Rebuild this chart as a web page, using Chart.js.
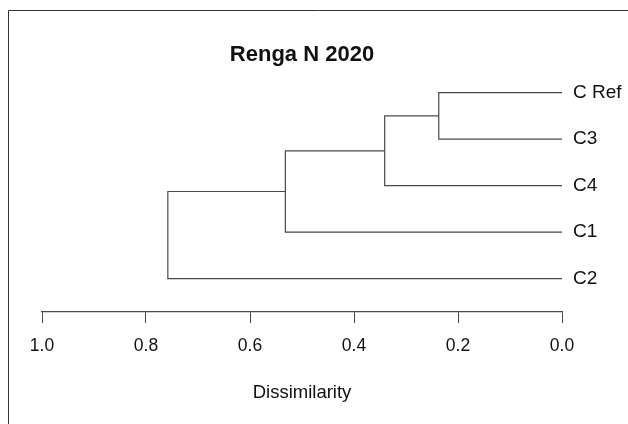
<!DOCTYPE html>
<html>
<head>
<meta charset="utf-8">
<script src="https://cdn.jsdelivr.net/npm/chart.js@4/dist/chart.umd.min.js"></script>
<style>
  body { margin: 0; background: #fff; }
  canvas { display: block; }
</style>
</head>
<body>
<canvas id="dendro" width="628" height="424"></canvas>
<script>
// leaves, bottom to top
var leaves = ['C2', 'C1', 'C4', 'C3', 'C Ref'];
// merges: children (leaf names or merge index) and height
var mergeLeft = ['C Ref', 0, 1, 2];
var mergeRight = ['C3', 'C4', 'C1', 'C2'];
var mergeHeights = [0.237, 0.341, 0.532, 0.758];
var xTicks = [0, 0.2, 0.4, 0.6, 0.8, 1.0];

var lineColor = '#4a4a4a';
var font = "'Liberation Sans', Arial, sans-serif";

// position of a node: leaf -> its row, merge -> mean of children
var nodeY = [];
function nodePos(n) {
    if (typeof n === 'string') return { y: leaves.indexOf(n) + 1, h: 0 };
    return { y: nodeY[n], h: mergeHeights[n] };
}

var datasets = [];
for (var i = 0; i < mergeHeights.length; i++) {
    var a = nodePos(mergeLeft[i]);
    var b = nodePos(mergeRight[i]);
    var h = mergeHeights[i];
    nodeY[i] = (a.y + b.y) / 2;
    datasets.push({
        data: [
            { x: a.h, y: a.y },
            { x: h, y: a.y },
            { x: h, y: b.y },
            { x: b.h, y: b.y }
        ],
        showLine: true,
        borderColor: lineColor,
        borderWidth: 1.2,
        pointRadius: 0,
        tension: 0
    });
}

var framePlugin = {
    id: 'frame',
    beforeDraw: function(chart) {
        var ctx = chart.ctx;
        ctx.save();
        ctx.fillStyle = '#fff';
        ctx.fillRect(0, 0, chart.width, chart.height);
        ctx.strokeStyle = '#333';
        ctx.lineWidth = 1;
        ctx.beginPath();
        ctx.moveTo(8.5, chart.height);
        ctx.lineTo(8.5, 10.5);
        ctx.lineTo(chart.width, 10.5);
        ctx.stroke();
        ctx.restore();
    }
};

var config = {
    type: 'scatter',
    data: { datasets: datasets },
    options: {
        responsive: false,
        animation: false,
        layout: { padding: { left: 42, right: 0, top: 20, bottom: 0 } },
        plugins: {
            legend: { display: false },
            tooltip: { enabled: false },
            title: {
                display: true,
                text: 'Renga N 2020',
                fullSize: false,
                color: '#111',
                font: { family: font, size: 22, weight: 'bold' },
                padding: { top: 22, bottom: 11.6 }
            }
        },
        scales: {
            x: {
                type: 'linear',
                reverse: true,
                min: 0,
                max: 1,
                afterBuildTicks: function(s) {
                    s.ticks = xTicks.map(function(v) { return { value: v }; });
                },
                afterFit: function(s) { s.height = 112; },
                grid: {
                    drawOnChartArea: false,
                    drawTicks: true,
                    tickLength: 11,
                    color: lineColor
                },
                border: { display: true, color: lineColor, width: 1.2 },
                ticks: {
                    color: '#111',
                    padding: 13,
                    maxRotation: 0,
                    font: { family: font, size: 17.5 },
                    callback: function(v) { return Number(v).toFixed(1); }
                },
                title: {
                    display: true,
                    text: 'Dissimilarity',
                    color: '#111',
                    font: { family: font, size: 18.5 },
                    padding: { top: 0, bottom: 20 }
                }
            },
            y: {
                type: 'linear',
                position: 'right',
                min: 0.284,
                max: 5.273,
                afterBuildTicks: function(s) {
                    s.ticks = leaves.map(function(l, k) { return { value: k + 1 }; });
                },
                afterFit: function(s) { s.width = 66; },
                grid: { display: false },
                border: { display: false },
                ticks: {
                    color: '#111',
                    padding: 3,
                    font: { family: font, size: 19 },
                    callback: function(v) { return leaves[Math.round(v) - 1]; }
                }
            }
        }
    },
    plugins: [framePlugin]
};

window.onload = function() {
    var ctx = document.getElementById('dendro').getContext('2d');
    window.myDendro = new Chart(ctx, config);
};
</script>
</body>
</html>
